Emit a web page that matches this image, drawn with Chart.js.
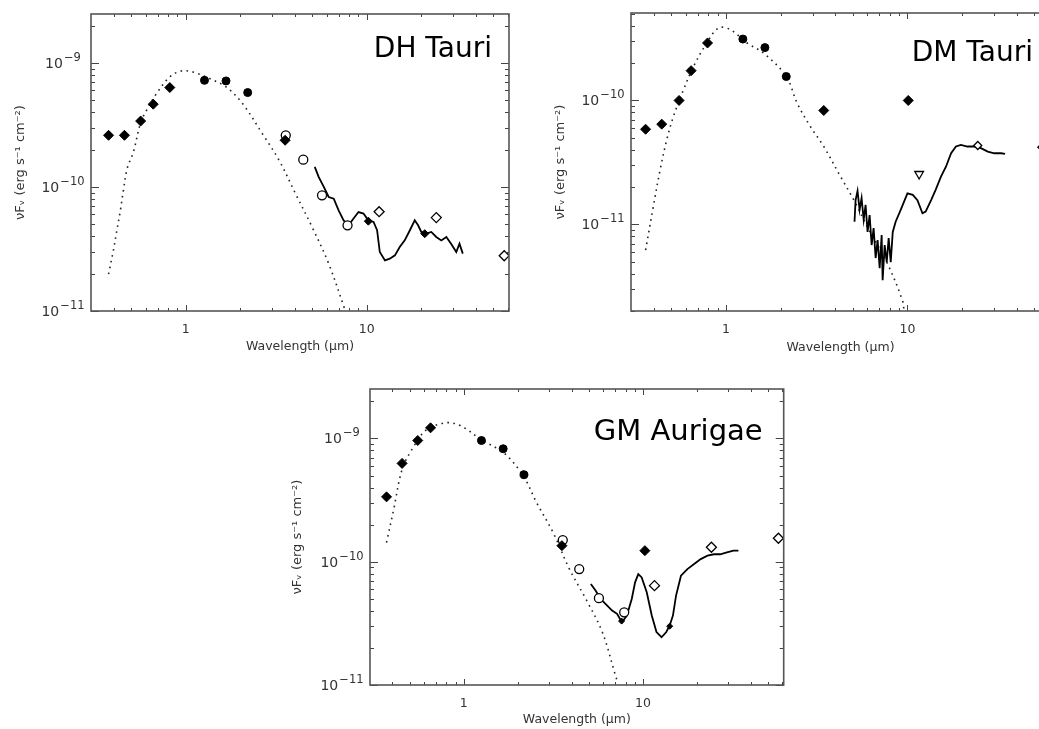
<!DOCTYPE html>
<html>
<head>
<meta charset="utf-8">
<title>SEDs of DH Tau, DM Tau, GM Aur</title>
<script src="https://cdn.jsdelivr.net/npm/chart.js@4.4.0/dist/chart.umd.min.js"></script>
<style>
  html, body { margin: 0; padding: 0; background: #fff; width: 1039px; height: 729px; overflow: hidden; }
  .panel { position: absolute; }
</style>
</head>
<body>
<canvas class="panel" id="dhTau" width="520" height="360" style="left:0;top:0"></canvas>
<canvas class="panel" id="dmTau" width="540" height="360" style="left:520px;top:0"></canvas>
<canvas class="panel" id="gmAur" width="520" height="359" style="left:270px;top:370px"></canvas>
<script>
// wavelengths in micron, fluxes as nuF_nu in erg s^-1 cm^-2

const wlMin = 0.31, wlMax = 61;
const xTickMajor = [1, 10];
const xTickLabels = ['1', '10'];
const xTickMinor = [0.4, 0.5, 0.6, 0.7, 0.8, 0.9, 2, 3, 4, 5, 6, 7, 8, 9, 20, 30, 40, 50, 60];
const yTickDecades = [-12, -11, -10, -9];

// --- DH Tauri ---
const dhFilledDiamondWl = [0.375, 0.459, 0.564, 0.662, 0.817, 3.54];
const dhFilledDiamondFlux = [2.61e-10, 2.61e-10, 3.40e-10, 4.65e-10, 6.33e-10, 2.38e-10];
const dhFilledCircleWl = [1.27, 1.67, 2.20];
const dhFilledCircleFlux = [7.24e-10, 7.16e-10, 5.77e-10];
const dhOpenCircleWl = [3.57, 4.46, 5.66, 7.83];
const dhOpenCircleFlux = [2.61e-10, 1.66e-10, 8.57e-11, 4.91e-11];
const dhOpenDiamondWl = [11.7, 24.2, 57.4];
const dhOpenDiamondFlux = [6.32e-11, 5.66e-11, 2.79e-11];
const dhSpecDotWl = [10.2, 20.9];
const dhSpecDotFlux = [5.3e-11, 4.2e-11];
const dhModelWl = [0.375, 0.399, 0.415, 0.436, 0.453, 0.476, 0.514, 0.564, 0.608, 0.690, 0.817, 0.946, 1.097, 1.354, 1.67, 2.06, 2.65, 3.28, 4.04, 4.99, 6.16, 7.6];
const dhModelFlux = [1.98e-11, 3.09e-11, 4.31e-11, 6.49e-11, 9.4e-11, 1.42e-10, 1.91e-10, 3.3e-10, 4.15e-10, 5.66e-10, 7.71e-10, 8.61e-10, 8.45e-10, 7.48e-10, 6.40e-10, 4.70e-10, 2.69e-10, 1.64e-10, 8.83e-11, 4.75e-11, 2.41e-11, 1.01e-11];
const dhSpecWl = [5.16, 5.43, 5.79, 6.16, 6.57, 6.99, 7.45, 7.93, 8.45, 9.00, 9.59, 10.2, 10.9, 11.4, 11.8, 12.6, 13.4, 14.3, 15.2, 16.2, 17.3, 18.4, 19.2, 20.0, 21.3, 22.7, 24.2, 25.8, 27.5, 29.2, 31.2, 32.5, 33.9];
const dhSpecFlux = [1.45e-10, 1.20e-10, 1.0e-10, 8.30e-11, 8.05e-11, 6.48e-11, 5.38e-11, 4.91e-11, 5.56e-11, 6.28e-11, 6.10e-11, 5.38e-11, 5.22e-11, 4.48e-11, 2.99e-11, 2.56e-11, 2.64e-11, 2.81e-11, 3.28e-11, 3.71e-11, 4.48e-11, 5.38e-11, 4.91e-11, 4.34e-11, 4.21e-11, 4.34e-11, 3.95e-11, 3.71e-11, 3.95e-11, 3.49e-11, 2.99e-11, 3.49e-11, 2.90e-11];

// --- DM Tauri ---
const dmFilledDiamondWl = [0.361, 0.443, 0.552, 0.643, 0.792, 3.46, 10.1];
const dmFilledDiamondFlux = [5.86e-11, 6.44e-11, 1.0e-10, 1.74e-10, 2.91e-10, 8.30e-11, 1.0e-10];
const dmFilledCircleWl = [1.24, 1.64, 2.15];
const dmFilledCircleFlux = [3.13e-10, 2.67e-10, 1.56e-10];
const dmTriangleWl = [11.6];
const dmTriangleFlux = [2.55e-11];
const dmOpenDiamondWl = [24.4, 55];
const dmOpenDiamondFlux = [4.33e-11, 4.2e-11];
const dmModelWl = [0.361, 0.398, 0.434, 0.472, 0.514, 0.584, 0.663, 0.785, 0.911, 1.057, 1.306, 1.615, 2.15, 2.47, 2.92, 3.46, 4.28, 5.07, 6.01, 7.75, 9.38, 9.59];
const dmModelFlux = [6.2e-12, 1.39e-11, 2.75e-11, 4.81e-11, 7.43e-11, 1.22e-10, 1.88e-10, 2.91e-10, 3.85e-10, 3.73e-10, 2.91e-10, 2.41e-10, 1.56e-10, 9.5e-11, 6.16e-11, 4.25e-11, 2.43e-11, 1.57e-11, 9.57e-12, 4.84e-12, 2.44e-12, 1.97e-12];
const dmSpecWl = [5.11, 5.18, 5.31, 5.45, 5.59, 5.74, 5.88, 6.03, 6.19, 6.35, 6.51, 6.68, 6.85, 7.03, 7.21, 7.30, 7.49, 7.69, 7.88, 8.09, 8.30, 8.61, 9.18, 10.0, 10.7, 11.35, 12.1, 12.6, 13.5, 14.3, 15.3, 16.3, 17.4, 18.5, 19.7, 21.4, 23.3, 25.4, 27.7, 30.1, 32.8, 34.5];
const dmSpecFlux = [1.05e-11, 1.57e-11, 1.86e-11, 1.31e-11, 1.63e-11, 1.09e-11, 1.44e-11, 8.69e-12, 1.19e-11, 6.81e-12, 9.35e-12, 5.35e-12, 7.48e-12, 4.44e-12, 8.20e-12, 3.55e-12, 6.81e-12, 4.95e-12, 7.76e-12, 4.95e-12, 8.69e-12, 1.05e-11, 1.31e-11, 1.78e-11, 1.73e-11, 1.57e-11, 1.23e-11, 1.27e-11, 1.57e-11, 1.90e-11, 2.43e-11, 2.92e-11, 3.75e-11, 4.25e-11, 4.38e-11, 4.25e-11, 4.25e-11, 4.12e-11, 3.87e-11, 3.75e-11, 3.75e-11, 3.71e-11];

// --- GM Aurigae ---
const gmFilledDiamondWl = [0.371, 0.453, 0.554, 0.653, 3.53, 10.25];
const gmFilledDiamondFlux = [3.36e-10, 6.28e-10, 9.63e-10, 1.22e-9, 1.35e-10, 1.23e-10];
const gmFilledCircleWl = [1.256, 1.66, 2.17];
const gmFilledCircleFlux = [9.63e-10, 8.25e-10, 5.08e-10];
const gmOpenCircleWl = [3.57, 4.41, 5.68, 7.86];
const gmOpenCircleFlux = [1.50e-10, 8.72e-11, 5.06e-11, 3.89e-11];
const gmOpenDiamondWl = [11.6, 24.1, 57.0];
const gmOpenDiamondFlux = [6.40e-11, 1.31e-10, 1.55e-10];
const gmSpecDotWl = [7.6, 14.1];
const gmSpecDotFlux = [3.3e-11, 3.0e-11];
const gmModelWl = [0.371, 0.407, 0.453, 0.514, 0.608, 0.720, 0.852, 1.01, 1.245, 1.67, 2.15, 2.55, 3.15, 3.89, 4.80, 5.93, 7.02, 7.26];
const gmModelFlux = [1.43e-10, 2.67e-10, 5.61e-10, 8.14e-10, 1.15e-9, 1.30e-9, 1.34e-9, 1.22e-9, 9.8e-10, 7.66e-10, 4.96e-10, 3.02e-10, 1.73e-10, 8.72e-11, 4.99e-11, 2.69e-11, 1.20e-11, 1.03e-11];
const gmSpecWl = [5.12, 5.45, 5.80, 6.18, 6.73, 7.17, 7.64, 8.13, 8.66, 9.04, 9.42, 9.84, 10.5, 11.2, 11.9, 12.7, 13.5, 14.1, 14.7, 15.3, 16.3, 17.7, 19.3, 21.0, 22.9, 24.9, 27.0, 29.4, 32.0, 34.1];
const gmSpecFlux = [6.59e-11, 5.82e-11, 4.99e-11, 4.55e-11, 4.02e-11, 3.78e-11, 3.23e-11, 3.66e-11, 4.99e-11, 6.81e-11, 7.94e-11, 7.46e-11, 5.65e-11, 3.66e-11, 2.69e-11, 2.44e-11, 2.69e-11, 3.04e-11, 3.66e-11, 5.31e-11, 7.71e-11, 8.72e-11, 9.57e-11, 1.05e-10, 1.12e-10, 1.15e-10, 1.15e-10, 1.19e-10, 1.23e-10, 1.23e-10];

const FONT = '"DejaVu Sans", sans-serif';

function pts(wl, flux) {
    return wl.map((w, i) => ({ x: w, y: flux[i] }));
}

function modelLine(wl, flux) {
    return { data: pts(wl, flux), showLine: true, pointRadius: 0, borderColor: '#222',
             borderWidth: 1.6, borderDash: [1.6, 4.4], tension: 0.35 };
}

function spectrumLine(wl, flux) {
    return { data: pts(wl, flux), showLine: true, pointRadius: 0, borderColor: '#000',
             borderWidth: 1.8, tension: 0 };
}

function markers(wl, flux, style, filled, r, rot) {
    return { data: pts(wl, flux), showLine: false, pointStyle: style, pointRadius: r,
             pointRotation: rot || 0, borderColor: '#000', borderWidth: filled ? 1 : 1.3,
             backgroundColor: filled ? '#000' : '#fff' };
}

// IDL-style frame: inward ticks on all four sides, labels, star name
const idlFrame = {
    id: 'idlFrame',
    afterDraw(chart, args, opts) {
        const ctx = chart.ctx, a = chart.chartArea;
        const xs = chart.scales.x, ys = chart.scales.y;
        const inY = v => v >= ys.min * 0.999 && v <= ys.max * 1.001;

        ctx.save();
        ctx.strokeStyle = '#444';
        ctx.lineWidth = 1;
        ctx.beginPath();
        xTickMinor.concat(xTickMajor).forEach(v => {
            const px = Math.round(xs.getPixelForValue(v)) + 0.5;
            const len = xTickMajor.includes(v) ? 6 : 3;
            ctx.moveTo(px, a.bottom); ctx.lineTo(px, a.bottom - len);
            ctx.moveTo(px, a.top); ctx.lineTo(px, a.top + len);
        });
        yTickDecades.forEach(e => {
            for (let m = 1; m <= 9; m++) {
                const v = m * Math.pow(10, e);
                if (!inY(v)) continue;
                const py = Math.round(ys.getPixelForValue(v)) + 0.5;
                const len = m === 1 ? 8 : 4;
                ctx.moveTo(a.left, py); ctx.lineTo(a.left + len, py);
                ctx.moveTo(a.right, py); ctx.lineTo(a.right - len, py);
            }
        });
        ctx.stroke();

        ctx.lineWidth = 1.6;
        ctx.strokeStyle = '#555';
        ctx.strokeRect(a.left, a.top, a.right - a.left, a.bottom - a.top);

        // tick labels
        ctx.fillStyle = '#333';
        ctx.textAlign = 'center';
        ctx.textBaseline = 'alphabetic';
        ctx.font = '12.5px ' + FONT;
        xTickMajor.forEach((v, i) => {
            ctx.fillText(xTickLabels[i], xs.getPixelForValue(v), a.bottom + 22);
        });
        yTickDecades.forEach(e => {
            const v = Math.pow(10, e);
            if (!inY(v)) return;
            const py = ys.getPixelForValue(v);
            const base = '10', expo = '\u2212' + Math.abs(e);
            ctx.font = '14px ' + FONT;
            const w1 = ctx.measureText(base).width;
            ctx.font = '11.5px ' + FONT;
            const w2 = ctx.measureText(expo).width;
            const x0 = a.left - 28 - (w1 + w2 + 1) / 2;
            ctx.textAlign = 'left';
            ctx.font = '14px ' + FONT;
            ctx.fillText(base, x0, py + 5);
            ctx.font = '11.5px ' + FONT;
            ctx.fillText(expo, x0 + w1 + 1, py - 2);
        });

        // star name
        ctx.fillStyle = '#000';
        ctx.textAlign = 'right';
        ctx.font = opts.nameSize + 'px ' + FONT;
        ctx.fillText(opts.name, a.right - opts.nameRight, a.top + opts.nameTop);
        ctx.restore();
    }
};

function makePanel(id, cfg) {
    new Chart(document.getElementById(id), {
        type: 'scatter',
        data: { datasets: cfg.datasets },
        options: {
            responsive: false,
            animation: false,
            layout: { padding: { top: cfg.top, right: cfg.right, left: 0, bottom: 0 } },
            plugins: {
                legend: { display: false },
                tooltip: { enabled: false },
                idlFrame: { name: cfg.name, nameSize: cfg.nameSize, nameRight: cfg.nameRight, nameTop: cfg.nameTop }
            },
            scales: {
                x: {
                    type: 'logarithmic', min: wlMin, max: wlMax,
                    grid: { display: false }, border: { display: false }, ticks: { display: false },
                    title: { display: true, text: 'Wavelength (\u03BCm)', color: '#333',
                             font: { family: FONT, size: 12.5 }, padding: { top: 0, bottom: cfg.xTitlePad } },
                    afterFit: s => { s.height = cfg.xAxisH; }
                },
                y: {
                    type: 'logarithmic', min: cfg.yMin, max: cfg.yMax,
                    grid: { display: false }, border: { display: false }, ticks: { display: false },
                    title: { display: true, text: '\u03BDF\u1D65 (erg s\u207B\u00B9 cm\u207B\u00B2)', color: '#333',
                             font: { family: FONT, size: 13 }, padding: { top: cfg.yTitlePad, bottom: 0 } },
                    afterFit: s => { s.width = cfg.yAxisW; }
                }
            }
        },
        plugins: [idlFrame]
    });
}

makePanel('dhTau', {
    name: 'DH Tauri', nameSize: 28, nameRight: 17, nameTop: 43,
    top: 14, right: 11, yAxisW: 91, xAxisH: 49, xTitlePad: 5.5, yTitlePad: 13,
    yMin: 1e-11, yMax: 2.48e-9,
    datasets: [
        markers(dhSpecDotWl, dhSpecDotFlux, 'rectRot', true, 4),
        markers(dhFilledDiamondWl, dhFilledDiamondFlux, 'rectRot', true, 5),
        markers(dhFilledCircleWl, dhFilledCircleFlux, 'circle', true, 4),
        markers(dhOpenDiamondWl, dhOpenDiamondFlux, 'rectRot', false, 5),
        markers(dhOpenCircleWl, dhOpenCircleFlux, 'circle', false, 4.5),
        spectrumLine(dhSpecWl, dhSpecFlux),
        modelLine(dhModelWl, dhModelFlux)
    ]
});

makePanel('dmTau', {
    name: 'DM Tauri', nameSize: 28, nameRight: 17, nameTop: 48,
    top: 13, right: 10, yAxisW: 111, xAxisH: 49, xTitlePad: 4.5, yTitlePad: 33,
    yMin: 2.0e-12, yMax: 5.08e-10,
    datasets: [
        markers(dmFilledDiamondWl, dmFilledDiamondFlux, 'rectRot', true, 5),
        markers(dmFilledCircleWl, dmFilledCircleFlux, 'circle', true, 4),
        markers(dmTriangleWl, dmTriangleFlux, 'triangle', false, 5, 180),
        markers(dmOpenDiamondWl, dmOpenDiamondFlux, 'rectRot', false, 4),
        spectrumLine(dmSpecWl, dmSpecFlux),
        modelLine(dmModelWl, dmModelFlux)
    ]
});

makePanel('gmAur', {
    name: 'GM Aurigae', nameSize: 29, nameRight: 21, nameTop: 51,
    top: 19, right: 2, yAxisW: 100, xAxisH: 44, xTitlePad: 1.5, yTitlePad: 20,
    yMin: 1e-11, yMax: 2.52e-9,
    datasets: [
        markers(gmSpecDotWl, gmSpecDotFlux, 'rectRot', true, 3),
        markers(gmFilledDiamondWl, gmFilledDiamondFlux, 'rectRot', true, 5),
        markers(gmFilledCircleWl, gmFilledCircleFlux, 'circle', true, 4),
        markers(gmOpenDiamondWl, gmOpenDiamondFlux, 'rectRot', false, 5),
        markers(gmOpenCircleWl, gmOpenCircleFlux, 'circle', false, 4.5),
        spectrumLine(gmSpecWl, gmSpecFlux),
        modelLine(gmModelWl, gmModelFlux)
    ]
});
</script>
</body>
</html>
